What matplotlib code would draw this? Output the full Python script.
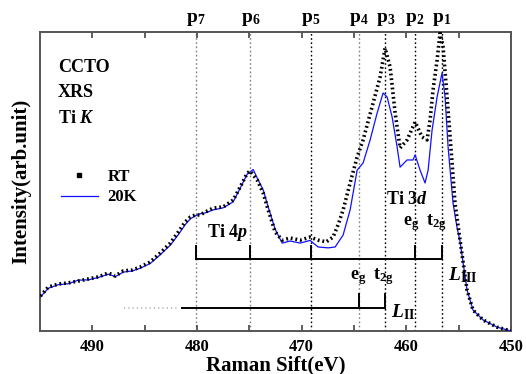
import matplotlib
matplotlib.use("Agg")
import matplotlib.pyplot as plt
from matplotlib.lines import Line2D

plt.rcParams['font.family'] = ['Liberation Serif', 'DejaVu Serif']
plt.rcParams['font.weight'] = 'bold'
plt.rcParams['mathtext.fontset'] = 'custom'
plt.rcParams['mathtext.rm'] = 'Liberation Serif:bold'
plt.rcParams['mathtext.it'] = 'Liberation Serif:bold:italic'
plt.rcParams['mathtext.bf'] = 'Liberation Serif:bold'

# ---- data (energy loss in eV, intensity in arb. units) ----
rt_energy = [494.96, 494.20, 493.25, 492.29, 491.34, 490.38, 489.43, 488.47, 487.80,
             487.04, 486.18, 485.42, 484.46, 483.51, 482.55, 481.79, 481.12, 480.64,
             480.17, 479.69, 479.21, 478.45, 477.49, 476.54, 475.87, 475.20, 474.92,
             474.25, 473.68, 473.20, 472.53, 471.86, 471.10, 470.14, 469.19, 468.43,
             467.66, 467.00, 466.52, 466.04, 465.37, 464.70, 464.13, 463.17, 462.51,
             462.03, 461.55, 461.07, 460.60, 459.93, 459.16, 458.50, 458.02, 457.73,
             457.45, 457.06, 456.78, 456.49, 456.11, 455.63, 455.35, 454.87, 454.20,
             453.63, 452.67, 451.34, 450.0]
rt_intensity = [0.117, 0.147, 0.157, 0.161, 0.167, 0.174, 0.181, 0.194, 0.184,
                0.201, 0.204, 0.214, 0.231, 0.261, 0.294, 0.331, 0.365, 0.381,
                0.388, 0.388, 0.398, 0.411, 0.415, 0.438, 0.482, 0.528, 0.535,
                0.505, 0.462, 0.405, 0.331, 0.304, 0.311, 0.304, 0.314, 0.304,
                0.298, 0.314, 0.355, 0.405, 0.495, 0.582, 0.639, 0.763, 0.849,
                0.946, 0.883, 0.729, 0.612, 0.639, 0.699, 0.649, 0.639, 0.706,
                0.806, 0.906, 0.997, 0.950, 0.783, 0.562, 0.428, 0.304, 0.137,
                0.070, 0.037, 0.013, 0.0]

k20_energy = [494.96, 494.20, 493.25, 492.29, 491.34, 490.38, 489.43, 488.47, 487.80,
              487.04, 486.18, 485.42, 484.46, 483.51, 482.55, 481.79, 481.12, 480.64,
              480.17, 479.69, 479.21, 478.45, 477.49, 476.54, 475.87, 475.20, 474.63,
              474.25, 473.68, 473.20, 472.53, 471.86, 471.10, 470.14, 469.19, 468.43,
              467.47, 466.80, 466.04, 465.37, 464.70, 464.13, 463.46, 462.79, 462.22,
              461.84, 461.36, 460.88, 460.60, 459.93, 459.36, 459.16, 458.69, 458.21,
              457.92, 457.54, 457.06, 456.59, 456.30, 456.01, 455.54, 455.15, 454.87,
              454.20, 453.63, 452.67, 451.34, 450.0]
k20_intensity = [0.114, 0.143, 0.155, 0.158, 0.170, 0.171, 0.179, 0.190, 0.182,
                 0.197, 0.201, 0.210, 0.226, 0.255, 0.287, 0.322, 0.356, 0.375,
                 0.385, 0.392, 0.395, 0.405, 0.412, 0.432, 0.478, 0.525, 0.540,
                 0.512, 0.472, 0.415, 0.340, 0.294, 0.301, 0.294, 0.303, 0.281,
                 0.278, 0.281, 0.321, 0.405, 0.538, 0.562, 0.639, 0.729, 0.796,
                 0.783, 0.716, 0.615, 0.548, 0.572, 0.572, 0.589, 0.538, 0.495,
                 0.538, 0.672, 0.783, 0.863, 0.783, 0.615, 0.428, 0.345, 0.300,
                 0.137, 0.070, 0.037, 0.013, 0.0]

peak_names = ["p$_7$", "p$_6$", "p$_5$", "p$_4$", "p$_3$", "p$_2$", "p$_1$"]
peak_energy = [480.1, 474.9, 469.1, 464.5, 462.0, 459.2, 456.6]
peak_line_color = ["gray", "gray", "black", "gray", "black", "black", "black"]

x_ticks = [490, 480, 470, 460, 450]

# ---- figure ----
fig = plt.figure(figsize=(5.26, 3.74), dpi=100)
ax = fig.add_axes([0.076, 0.115, 0.8955, 0.7994])
ax.set_xlim(495, 450)
ax.set_ylim(0, 1)

for e, c in zip(peak_energy, peak_line_color):
    ax.axvline(e, color=c, ls=(0, (1.2, 1.8)), lw=1.0, zorder=1)

ax.plot(k20_energy, k20_intensity, color='#1010ff', lw=0.9, zorder=3)
ax.plot(rt_energy, rt_intensity, color='black', lw=2.6, ls=(0, (0.5, 0.8)),
        dash_capstyle='butt', zorder=4)

# peak labels above the frame
for name, e in zip(peak_names, peak_energy):
    ax.text(e, 1.012, name, ha='center', va='bottom', fontsize=14,
            fontweight='bold', transform=ax.get_xaxis_transform())

# Ti 4p bracket (L_III)
y_br1, y_tk1 = 0.241, 0.284
ax.plot([peak_energy[0], peak_energy[6]], [y_br1, y_br1], color='black', lw=1.4)
for e in [peak_energy[0], peak_energy[1], peak_energy[2], peak_energy[5], peak_energy[6]]:
    ax.plot([e, e], [y_br1, y_tk1], color='black', lw=1.4)

# L_II bracket
y_br2, y_tk2 = 0.077, 0.124
ax.plot([481.4, peak_energy[4]], [y_br2, y_br2], color='black', lw=1.4)
ax.plot([487.0, 481.8], [y_br2, y_br2], color='#bbbbbb', lw=1.4, ls=(0, (0.6, 1.6)))
for e in [peak_energy[3], peak_energy[4]]:
    ax.plot([e, e], [y_br2, y_tk2], color='black', lw=1.4)

fs = 13
ax.text(493.28, 0.866, "CCTO", fontsize=fs, fontweight='bold')
ax.text(493.28, 0.783, "XRS", fontsize=fs, fontweight='bold')
ax.text(493.28, 0.696, "Ti $K$", fontsize=fs, fontweight='bold')
ax.text(479.0, 0.314, "Ti 4$p$", fontsize=fs, fontweight='bold')
ax.text(461.93, 0.425, "Ti 3$d$", fontsize=fs, fontweight='bold')
ax.text(460.31, 0.355, "e$_\\mathrm{g}$", fontsize=fs, fontweight='bold')
ax.text(458.11, 0.355, "t$_\\mathrm{2g}$", fontsize=fs, fontweight='bold')
ax.text(456.01, 0.171, "$L_\\mathrm{III}$", fontsize=fs + 1, fontweight='bold')
ax.text(465.37, 0.174, "e$_\\mathrm{g}$", fontsize=fs, fontweight='bold')
ax.text(463.17, 0.174, "t$_\\mathrm{2g}$", fontsize=fs, fontweight='bold')
ax.text(461.46, 0.047, "$L_\\mathrm{II}$", fontsize=fs + 1, fontweight='bold')

handles = [Line2D([], [], color='black', marker='s', ms=2.5, ls='none'),
           Line2D([], [], color='#1010ff', lw=0.9)]
ax.legend(handles, ["RT", "20K"], loc='upper left', bbox_to_anchor=(0.02, 0.58),
          frameon=False, fontsize=12, handlelength=2.2, handletextpad=0.6,
          labelspacing=0.25, borderpad=0.2)

ax.set_xticks(x_ticks)
ax.set_xticks([485, 475, 465, 455], minor=True)
ax.set_yticks([])
ax.tick_params(axis='x', which='both', direction='in', top=True, length=4, width=1.2,
               labelsize=12, pad=6, color='#444444')
for lab in ax.get_xticklabels():
    lab.set_fontweight('bold')
for s in ax.spines.values():
    s.set_linewidth(1.4)
    s.set_color('#555555')

ax.set_xlabel("Raman Sift(eV)", fontsize=15, fontweight='bold', labelpad=0)
ax.set_ylabel("Intensity(arb.unit)", fontsize=15, fontweight='bold', labelpad=6)

fig.savefig("out.png", dpi=100)
